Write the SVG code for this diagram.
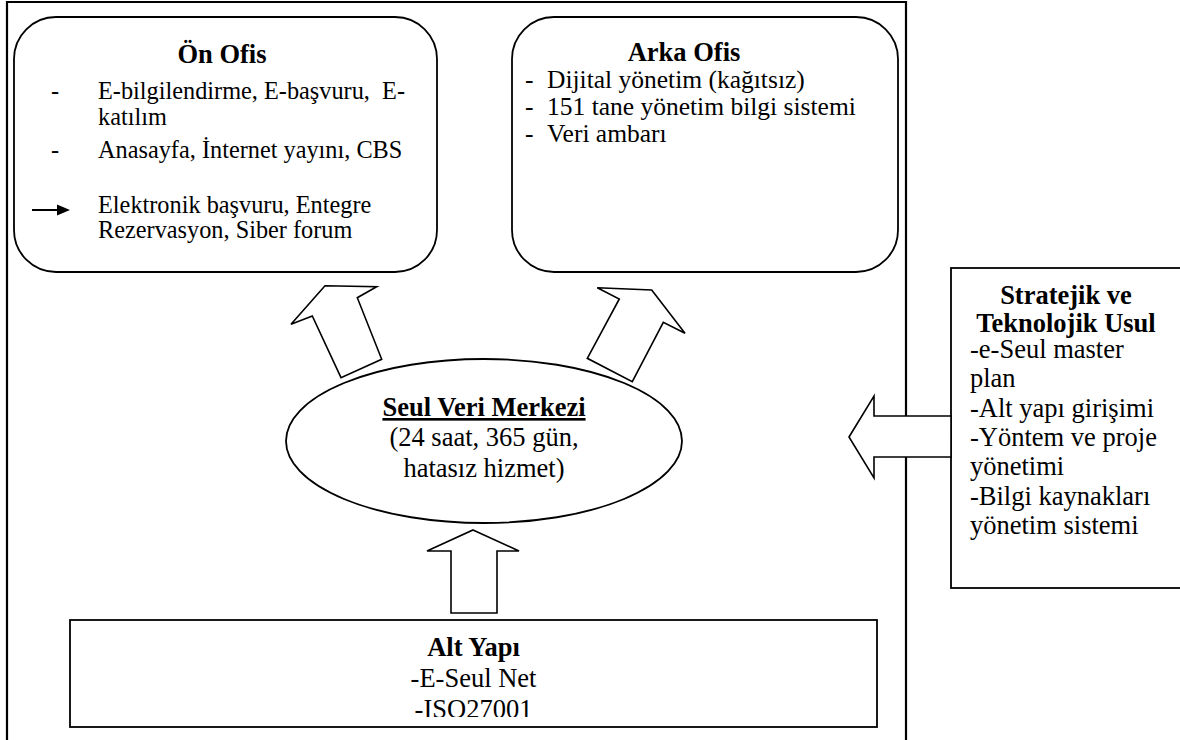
<svg xmlns="http://www.w3.org/2000/svg" width="1180" height="740" viewBox="0 0 1180 740">
  <style>
    .t { font-family: "Liberation Serif", "Times New Roman", serif; fill: #000; }
    .b { font-weight: bold; }
    .s11 { font-size: 24.3px; }
    .sa { font-size: 25.5px; }
    .s12 { font-size: 26.5px; }
    .box { fill: #fff; stroke: #000; stroke-width: 1.8; }
    .frame { fill: none; stroke: #000; stroke-width: 2.2; }
    .blk { fill: #fff; stroke: #000; stroke-width: 1.6; stroke-linejoin: miter; }
  </style>
  <defs>
    <clipPath id="altclip"><rect x="70" y="620" width="807" height="97"/></clipPath>
  </defs>
  <rect width="1180" height="740" fill="#fff"/>

  <g id="frame">
    <path class="frame" d="M7,740 V2 H906 V740"/>
  </g>

  <g id="on-ofis">
    <rect class="box" x="14" y="17" width="423" height="255" rx="42" ry="42"/>
    <text class="t b s12" x="222" y="63" text-anchor="middle">Ön Ofis</text>
    <text class="t s11" x="51" y="99">-</text>
    <text class="t s11" x="98" y="99">E-bilgilendirme, E-başvuru,&#160; E-</text>
    <text class="t s11" x="98" y="125">katılım</text>
    <text class="t s11" x="51" y="158">-</text>
    <text class="t s11" x="98" y="158">Anasayfa, İnternet yayını, CBS</text>
    <line x1="32" y1="210" x2="60" y2="210" stroke="#000" stroke-width="2"/>
    <polygon points="57,204.5 70,210 57,215.5" fill="#000"/>
    <text class="t s11" x="98" y="213">Elektronik başvuru, Entegre</text>
    <text class="t s11" x="98" y="238">Rezervasyon, Siber forum</text>
  </g>

  <g id="arka-ofis">
    <rect class="box" x="512" y="17" width="386" height="255" rx="42" ry="42"/>
    <text class="t b s12" x="684" y="61" text-anchor="middle">Arka Ofis</text>
    <text class="t sa" x="525" y="88">-</text>
    <text class="t sa" x="547" y="88">Dijital yönetim (kağıtsız)</text>
    <text class="t sa" x="525" y="115">-</text>
    <text class="t sa" x="547" y="115">151 tane yönetim bilgi sistemi</text>
    <text class="t sa" x="525" y="142">-</text>
    <text class="t sa" x="547" y="142">Veri ambarı</text>
  </g>

  <g id="veri-merkezi">
    <ellipse class="box" cx="484" cy="441" rx="198" ry="82"/>
    <text class="t b s12" x="484" y="416" text-anchor="middle" text-decoration="underline">Seul Veri Merkezi</text>
    <text class="t s12" x="484" y="446" text-anchor="middle">(24 saat, 365 gün,</text>
    <text class="t s12" x="484" y="477" text-anchor="middle">hatasız hizmet)</text>
  </g>

  <g id="stratejik">
    <rect class="box" x="951" y="268" width="240" height="320"/>
    <text class="t b s12" x="1066" y="304" text-anchor="middle">Stratejik ve</text>
    <text class="t b s12" x="1066" y="332" text-anchor="middle">Teknolojik Usul</text>
    <text class="t s12" x="970" y="358">-e-Seul master</text>
    <text class="t s12" x="970" y="387">plan</text>
    <text class="t s12" x="970" y="417">-Alt yapı girişimi</text>
    <text class="t s12" x="970" y="446">-Yöntem ve proje</text>
    <text class="t s12" x="970" y="475">yönetimi</text>
    <text class="t s12" x="970" y="505">-Bilgi kaynakları</text>
    <text class="t s12" x="970" y="534">yönetim sistemi</text>
  </g>

  <g id="alt-yapi">
    <rect class="box" x="70" y="620" width="807" height="107"/>
    <g clip-path="url(#altclip)">
      <text class="t b s12" x="473.5" y="656" text-anchor="middle">Alt Yapı</text>
      <text class="t s12" x="473.5" y="687" text-anchor="middle">-E-Seul Net</text>
      <text class="t s12" x="473.5" y="718" text-anchor="middle">-ISO27001</text>
    </g>
  </g>

  <g id="connectors">
    <polygon class="blk" points="325,285.7 376.7,286.7 357.3,297.7 381.7,359.3 341,377.7 312.3,316 291,324.3"/>
    <polygon class="blk" points="651.7,290 685,333.3 663.3,322.3 632.3,381.7 587.3,358.3 619.3,299 597.3,287.7"/>
    <polygon class="blk" points="473,530 519,551 497,551 497,613 451,613 451,551 427,551"/>
    <polygon class="blk" points="849,437 874,396 874,416 951,416 951,457 874,457 874,478"/>
  </g>
</svg>
